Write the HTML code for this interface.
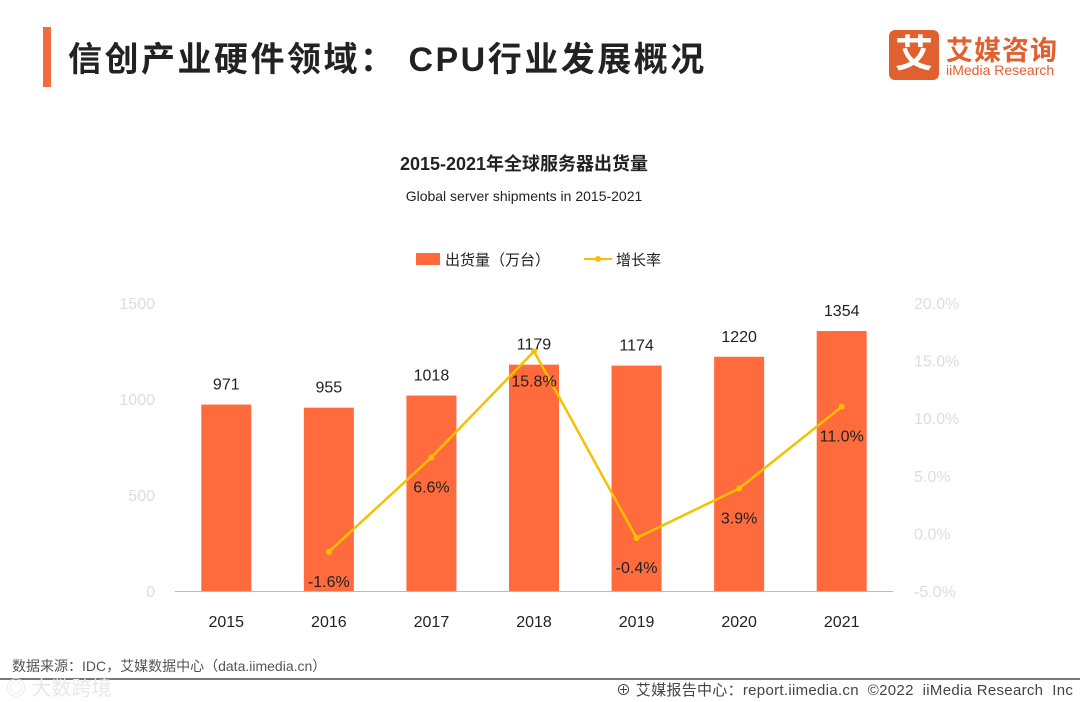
<!DOCTYPE html>
<html><head><meta charset="utf-8">
<style>
body{margin:0;width:1080px;height:702px;background:#fff;overflow:hidden;font-family:"Liberation Sans","Noto Sans CJK SC",sans-serif;position:relative}
.abs{position:absolute}
</style></head><body>
<div class="abs" style="left:43px;top:27px;width:8px;height:60px;background:#f26a3d"></div>
<div class="abs" style="left:68px;top:32px;font-size:34px;font-weight:bold;color:#222;letter-spacing:2.5px">信创产业硬件领域： CPU行业发展概况</div>
<div class="abs" style="left:889px;top:30px;width:50px;height:50px;background:#e0602f;border-radius:6px;color:#fff;font-size:38px;font-weight:bold;text-align:center;line-height:50px">艾</div>
<div class="abs" style="left:946px;top:29px;font-size:27px;font-weight:bold;color:#e0602f;letter-spacing:1px">艾媒咨询</div>
<div class="abs" style="left:946px;top:62px;font-size:14px;color:#e0602f">iiMedia Research</div>
<svg class="abs" style="left:0;top:0" width="1080" height="702">
<text x="524" y="170" text-anchor="middle" font-size="18" font-weight="bold" fill="#222">2015-2021年全球服务器出货量</text>
<text x="524" y="201" text-anchor="middle" font-size="14" fill="#222">Global server shipments in 2015-2021</text>
<rect x="416" y="253" width="24" height="12" fill="#ff6b3d"/>
<text x="445" y="265" font-size="15" fill="#222">出货量（万台）</text>
<line x1="584" y1="259" x2="612" y2="259" stroke="#f5c000" stroke-width="2"/>
<circle cx="598" cy="259" r="3" fill="#f5c000"/>
<text x="616" y="265" font-size="15" fill="#222">增长率</text>
<g id="g"></g>
</svg>
<div class="abs" style="left:12px;top:656px;font-size:14px;color:#555">数据来源：IDC，艾媒数据中心（data.iimedia.cn）</div>
<div class="abs" style="left:0;top:678px;width:1080px;height:2px;background:#777"></div>
<div class="abs" style="left:6px;top:672px;font-size:20px;color:#e8e8e8">◎ 大数跨境</div>
<div class="abs" style="left:616px;top:679px;font-size:15px;color:#444;letter-spacing:0.3px">⊕ 艾媒报告中心：report.iimedia.cn &nbsp;©2022 &nbsp;iiMedia Research &nbsp;Inc</div>
<script>
const years=["2015","2016","2017","2018","2019","2020","2021"];
const shipments=[971,955,1018,1179,1174,1220,1354];
const growth=[null,-1.6,6.6,15.8,-0.4,3.9,11.0];
const leftTicks=[0,500,1000,1500];
const rightTicks=[-5,0,5,10,15,20];
const NS="http://www.w3.org/2000/svg",g=document.getElementById('g');
const x0=175,x1=893,band=(x1-x0)/years.length;
const yL=v=>591-v*0.192, yR=v=>591-(v+5)*11.52, xc=i=>x0+band*(i+0.5);
function mk(t,a,txt){const e=document.createElementNS(NS,t);for(const k in a)e.setAttribute(k,a[k]);if(txt!=null)e.textContent=txt;g.appendChild(e);return e;}
leftTicks.forEach(v=>{const e=mk('text',{x:155,y:yL(v)+6,'text-anchor':'end','font-size':16,fill:'#ddd'},v);

});
rightTicks.forEach(v=>{const e=mk('text',{x:914,y:yR(v)+6,'font-size':16,fill:'#ddd'},v.toFixed(1)+'%');

});
shipments.forEach((v,i)=>{const r=mk('rect',{x:xc(i)-25,y:yL(v),width:50,height:yL(0)-yL(v),fill:'#ff6b3d'});


const t=mk('text',{x:xc(i),y:yL(v)-15,'text-anchor':'middle','font-size':16,fill:'#222'},v);


const xl=mk('text',{x:xc(i),y:627,'text-anchor':'middle','font-size':16,fill:'#222'},years[i]);

});
const ax=mk('line',{x1:x0,y1:591.5,x2:x1,y2:591.5,stroke:'#bbb'});


const pts=growth.map((v,i)=>v==null?null:[xc(i),yR(v)]).filter(p=>p);
const pl=mk('polyline',{points:pts.map(p=>p.join(',')).join(' '),fill:'none',stroke:'#f5c000','stroke-width':2.5});


growth.forEach((v,i)=>{if(v==null)return;
const c=mk('circle',{cx:xc(i),cy:yR(v),r:3,fill:'#f5c000'});


const t=mk('text',{x:xc(i),y:yR(v)+35,'text-anchor':'middle','font-size':16,fill:'#222'},v.toFixed(1)+'%');

});
</script>
</body></html>
